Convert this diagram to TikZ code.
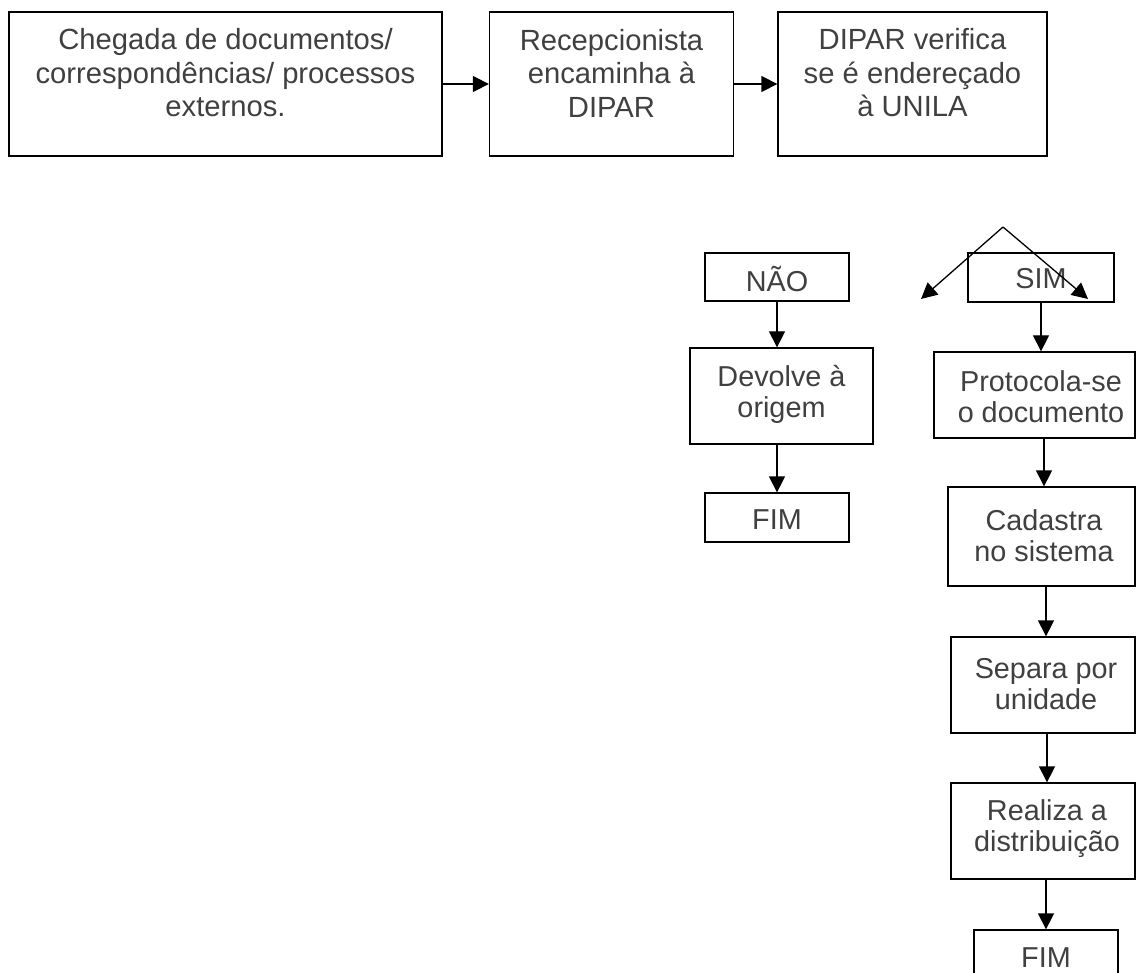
\documentclass[tikz,border=0pt]{standalone}
\usepackage{fontspec}
\setmainfont{Liberation Sans}
\usetikzlibrary{arrows.meta}
\definecolor{textgray}{HTML}{404040}
\tikzset{
  box/.style={draw, line width=1.3pt, rectangle, inner sep=0pt},
  txt/.style={font=\fontsize{28.8}{31}\selectfont, text=textgray, align=center, inner sep=0pt},
  toptxt/.style={txt, font=\fontsize{29.2}{33.5}\selectfont},
  arr/.style={-{Triangle[length=16pt,width=16pt]}, line width=1.3pt},
}
\begin{document}
\begin{tikzpicture}[x=1pt,y=-1pt]
\useasboundingbox (0,0) rectangle (1137,973);
\clip (0,0) rectangle (1137,973);
\fill[white] (0,0) rectangle (1137,973);
% top row
\node[box, minimum width=433pt, minimum height=144pt] (b1) at (225.5,84) {};
\node[toptxt] (t1) at (225.5,73) {Chegada de documentos/\\correspondências/ processos\\externos.};
\node[box, minimum width=244pt, minimum height=144pt] (b2) at (611.5,84) {};
\node[toptxt] (t2) at (611.5,73) {Recepcionista\\encaminha à\\DIPAR};
\node[box, minimum width=269pt, minimum height=144pt] (b3) at (912.5,84) {};
\node[toptxt] (t3) at (912.5,73) {DIPAR verifica\\se é endereçado\\à UNILA};
\draw[arr] (b1.east) -- (b2.west);
\draw[arr] (b2.east) -- (b3.west);
% decision
\coordinate (apex) at (1003,227);
\coordinate (ltip) at (921,299);
\coordinate (rtip) at (1088,299);
\node[box, minimum width=144pt, minimum height=48pt] (no) at (777,277) {};
\node[txt] (tno) at (777,279) {NÃO};
\node[box, minimum width=146pt, minimum height=49pt] (yes) at (1041,277.5) {};
\node[txt] (tyes) at (1041,279) {SIM};
\draw[arr] (apex) -- (ltip);
\draw[arr] (apex) -- (rtip);
% NAO branch
\node[box, minimum width=183pt, minimum height=96pt] (dev) at (781.5,396) {};
\node[txt] (tdev) at (781.5,394) {Devolve à\\origem};
\node[box, minimum width=144pt, minimum height=49pt] (fim1) at (777,517.5) {};
\node[txt] (tfim1) at (777,520) {FIM};
\draw[arr] (no.south) -- (no.south |- dev.north);
\draw[arr] (dev.south -| no.south) -- (fim1.north);
% SIM branch
\node[box, minimum width=201pt, minimum height=86pt] (prot) at (1034.5,395) {};
\node[txt] (tprot) at (1041,397) {Protocola-se\\o documento};
\node[box, minimum width=187pt, minimum height=99pt] (cad) at (1041.5,536.5) {};
\node[txt] (tcad) at (1044,536) {Cadastra\\no sistema};
\node[box, minimum width=184pt, minimum height=96pt] (sep) at (1043,685) {};
\node[txt] (tsep) at (1046,684) {Separa por\\unidade};
\node[box, minimum width=184pt, minimum height=96pt] (real) at (1043,831) {};
\node[txt] (treal) at (1047,829) {Realiza a\\distribuição};
\node[box, minimum width=144pt, minimum height=49pt] (fim2) at (1046,954.5) {};
\node[txt] (tfim2) at (1046,958) {FIM};
\draw[arr] (yes.south) -- (yes.south |- prot.north);
\draw[arr] (prot.south -| tcad.center) -- (cad.north -| tcad.center);
\draw[arr] (cad.south -| tsep.center) -- (sep.north -| tsep.center);
\draw[arr] (sep.south -| treal.center) -- (real.north -| treal.center);
\draw[arr] (real.south -| fim2.north) -- (fim2.north);
\end{tikzpicture}
\end{document}
